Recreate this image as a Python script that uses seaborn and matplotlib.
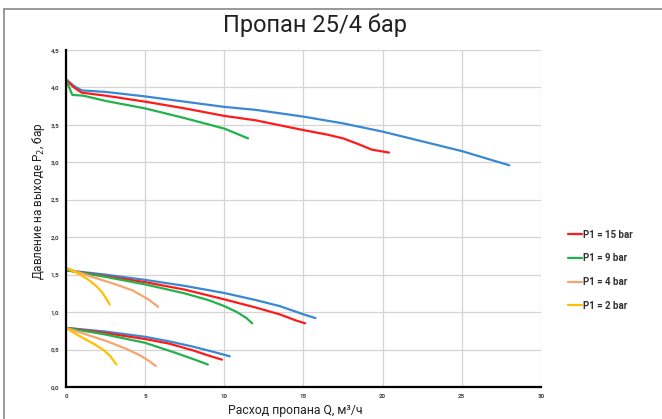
import pandas as pd
import seaborn as sns
import matplotlib.pyplot as plt
import matplotlib.lines as mlines

# flow Q (m3/h) and outlet pressure P2 (bar)
# P2 = 4 bar group
q_25_hi = [0, 0.5, 1.0, 2.5, 5, 7.5, 10, 12, 15, 17.5, 20, 22.5, 25, 28]
p_25_hi = [4.11, 4.02, 3.96, 3.94, 3.88, 3.81, 3.74, 3.70, 3.61, 3.52, 3.41, 3.28, 3.15, 2.96]
q_15_hi = [0, 0.5, 1.0, 2.5, 5, 7.5, 10, 12, 15, 16.5, 17.5, 18.5, 19.3, 20.4]
p_15_hi = [4.10, 4.00, 3.93, 3.89, 3.81, 3.72, 3.62, 3.56, 3.43, 3.37, 3.32, 3.24, 3.17, 3.13]
q_9_hi = [0, 0.4, 1.1, 2.5, 5, 7.5, 10, 11.5]
p_9_hi = [4.10, 3.90, 3.89, 3.82, 3.72, 3.59, 3.45, 3.32]

# P2 = 1.5 bar group
q_25_mid = [0, 2.5, 5, 7.5, 10, 12, 13.5, 15, 15.75]
p_25_mid = [1.56, 1.50, 1.43, 1.35, 1.255, 1.16, 1.08, 0.97, 0.92]
q_15_mid = [0, 2.5, 5, 7.5, 10, 12, 13.5, 14.5, 15.1]
p_15_mid = [1.56, 1.48, 1.40, 1.30, 1.17, 1.06, 0.97, 0.89, 0.85]
q_9_mid = [0, 2.5, 5, 7.5, 9, 10, 10.8, 11.4, 11.76]
p_9_mid = [1.56, 1.47, 1.37, 1.25, 1.16, 1.08, 1.00, 0.92, 0.85]
q_4_mid = [0, 1.5, 3.0, 4.2, 5.2, 5.82]
p_4_mid = [1.59, 1.48, 1.38, 1.29, 1.17, 1.07]
q_2_mid = [0, 0.9, 1.5, 1.9, 2.3, 2.6, 2.76]
p_2_mid = [1.59, 1.50, 1.42, 1.35, 1.26, 1.16, 1.10]

# P2 = 0.8 bar group
q_25_lo = [0, 2.5, 5, 6.5, 8, 9.3, 10.34]
p_25_lo = [0.79, 0.74, 0.67, 0.61, 0.54, 0.47, 0.41]
q_15_lo = [0, 2.5, 5, 6.5, 8, 9.0, 9.85]
p_15_lo = [0.79, 0.72, 0.64, 0.58, 0.49, 0.42, 0.365]
q_9_lo = [0, 2.5, 5, 6.0, 7.0, 8.2, 8.96]
p_9_lo = [0.79, 0.70, 0.59, 0.52, 0.45, 0.36, 0.30]
q_4_lo = [0, 1.3, 2.6, 3.8, 4.7, 5.3, 5.67]
p_4_lo = [0.79, 0.70, 0.61, 0.51, 0.42, 0.34, 0.28]
q_2_lo = [0, 0.6, 1.2, 1.8, 2.4, 2.8, 3.18]
p_2_lo = [0.79, 0.71, 0.64, 0.57, 0.49, 0.41, 0.30]

curves = [
    ("P1 = 25 bar", q_25_hi, p_25_hi), ("P1 = 15 bar", q_15_hi, p_15_hi), ("P1 = 9 bar", q_9_hi, p_9_hi),
    ("P1 = 25 bar", q_25_mid, p_25_mid), ("P1 = 15 bar", q_15_mid, p_15_mid), ("P1 = 9 bar", q_9_mid, p_9_mid),
    ("P1 = 4 bar", q_4_mid, p_4_mid), ("P1 = 2 bar", q_2_mid, p_2_mid),
    ("P1 = 25 bar", q_25_lo, p_25_lo), ("P1 = 15 bar", q_15_lo, p_15_lo), ("P1 = 9 bar", q_9_lo, p_9_lo),
    ("P1 = 4 bar", q_4_lo, p_4_lo), ("P1 = 2 bar", q_2_lo, p_2_lo),
]

rows = []
for ic, (p1, qs, ps) in enumerate(curves):
    for q, p in zip(qs, ps):
        rows.append({"Q": q, "P2": p, "P1": p1, "curve": ic})
df = pd.DataFrame(rows)

colors = {
    "P1 = 25 bar": "#3a88d4",
    "P1 = 15 bar": "#ff1a1a",
    "P1 = 9 bar": "#22b24c",
    "P1 = 4 bar": "#f7a56e",
    "P1 = 2 bar": "#ffc000",
}

sns.set_style("white")
plt.rcParams['font.family'] = ['Roboto', 'DejaVu Sans']

fig = plt.figure(figsize=(6.62, 4.19), dpi=100)
ax = fig.add_axes([0.0997, 0.0764, 0.7175, 0.8043])

sns.lineplot(data=df, x="Q", y="P2", hue="P1", units="curve", estimator=None, sort=False,
             palette=colors, linewidth=1.6, legend=False, ax=ax)

ax.set_xlim(0, 30)
ax.set_ylim(0, 4.5)
ax.set_xticks(range(0, 31, 5))
ax.set_yticks([i * 0.5 for i in range(10)])
ax.set_yticklabels(["{:.1f}".format(i * 0.5).replace(".", ",") for i in range(10)])
ax.tick_params(axis="both", labelsize=4.5, labelcolor="#444444", color="black", length=3, width=1.2, pad=2)
for lab in ax.get_xticklabels() + ax.get_yticklabels():
    lab.set_fontweight("bold")
ax.grid(True, color="#d4d4d4", linewidth=0.9)
for side in ["top", "right"]:
    ax.spines[side].set_visible(False)
for side in ["left", "bottom"]:
    ax.spines[side].set_color("black")
    ax.spines[side].set_linewidth(1.6)

ax.set_xlabel("")
ax.set_ylabel("")
fig.text(0.446, 0.021, "Расход пропана Q, м³/ч", ha="center", va="center", fontsize=8.8, color="#222222")
fig.text(0.058, 0.52, "Давление на выходе P$_2$, бар", ha="center", va="center", rotation=90,
         fontsize=8.5, color="#222222")
fig.text(0.476, 0.94, "Пропан 25/4 бар", ha="center", va="center", fontsize=17, color="#222222")

legend_handles = []
for name in ["P1 = 15 bar", "P1 = 9 bar", "P1 = 4 bar", "P1 = 2 bar"]:
    legend_handles.append(mlines.Line2D([], [], color=colors[name], linewidth=1.6, label=name))
leg = fig.legend(handles=legend_handles, loc="center left", bbox_to_anchor=(0.845, 0.355),
                 frameon=False, handlelength=1.4, handletextpad=0.15, labelspacing=1.4,
                 prop={"size": 7, "weight": "bold"})
for t in leg.get_texts():
    t.set_color("#333333")

# frame lines at top and left of the picture
fig.add_artist(mlines.Line2D([0.006, 1.0], [0.979, 0.979], color="#888888", linewidth=1.2))
fig.add_artist(mlines.Line2D([0.006, 0.006], [0.0, 0.979], color="#888888", linewidth=1.2))

fig.savefig("out.png", dpi=100)
